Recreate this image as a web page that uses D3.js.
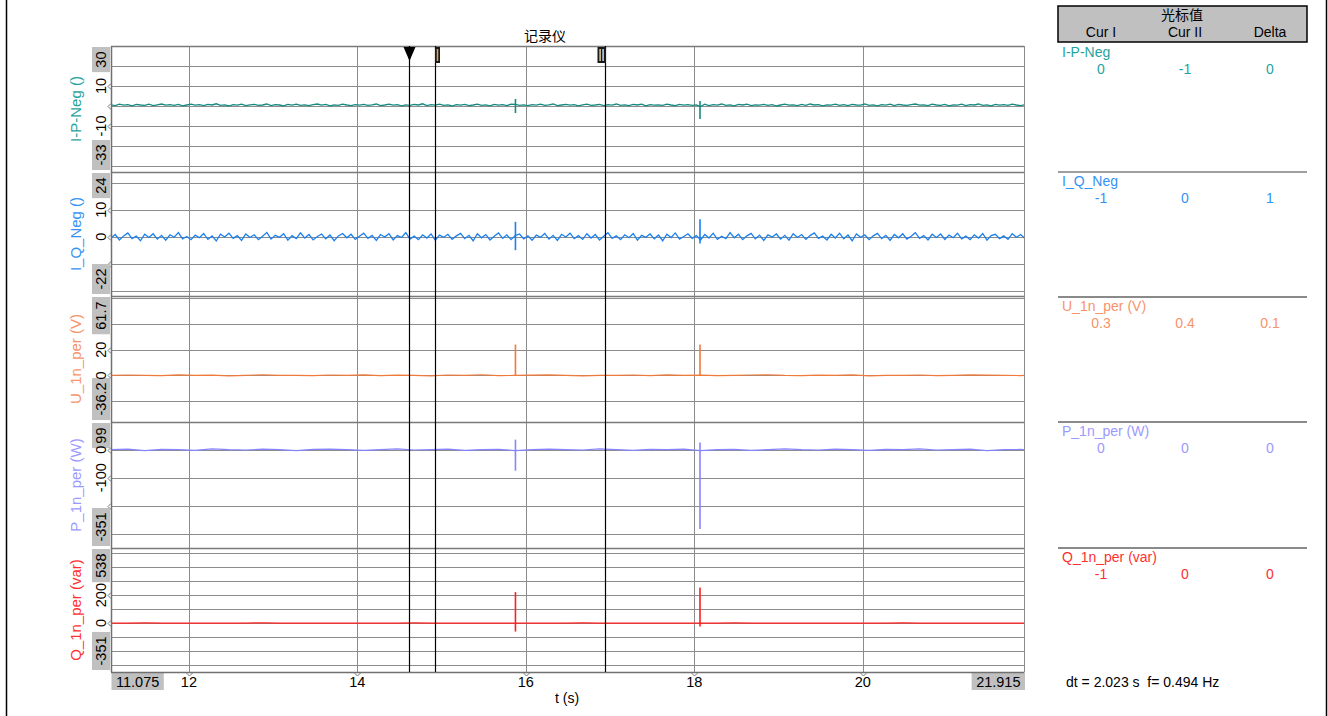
<!DOCTYPE html>
<html><head><meta charset="utf-8">
<script src="https://cdn.jsdelivr.net/npm/d3@7"></script>
<style>
body{margin:0;background:#fff;}
text{font-family:"Liberation Sans",Arial,sans-serif;}
.cjk{font-family:"Noto Sans CJK SC","Liberation Sans",sans-serif;}
</style>
</head><body>
<svg id="c" width="1328" height="716"></svg>
<script>
// ---------------- data ----------------
const chartTitle = "记录仪";
const timeDomain = [11.075, 21.915];
const xTicks = [12, 14, 16, 18, 20];
const xTitle = "t (s)";
const seriesNames = ["I-P-Neg", "I_Q_Neg", "U_1n_per (V)", "P_1n_per (W)", "Q_1n_per (var)"];
const axisTitles = ["I-P-Neg ()", "I_Q_Neg ()", "U_1n_per (V)", "P_1n_per (W)", "Q_1n_per (var)"];
const yMins = [-33, -22, -36.2, -351, -351];
const yMaxs = [30, 24, 61.7, 99, 538];
const yMinLabels = ["-33", "-22", "-36.2", "-351", "-351"];
const yMaxLabels = ["30", "24", "61.7", "99", "538"];
const yTickValues = [[10, 0, -10], [10, 0, -10], [20, 0], [0, -100, -200], [200, 0]];
const yTickLabels = [["10", "", "-10"], ["10", "0", ""], ["20", "0"], ["0", "-100", ""], ["200", "0"]];
const gridSteps = [10, 10, 20, 100, 100];
const sampleStart = 11.075;
const sampleSteps = [0.05, 0.05, 0.2, 0.2, 0.2];

const ipNeg = [0.6,0.2,0.9,0.4,0.7,0.1,0.8,0.5,0.3,0.9,0.2,0.6,1.0,0.4,0.7,0.3,0.8,0.1,0.5,0.9,
 0.4,0.7,0.2,0.8,0.5,1.1,0.3,0.6,0.0,0.7,0.4,0.9,0.2,0.6,0.8,0.3,0.5,1.0,0.2,0.7,
 0.5,0.1,0.8,0.4,0.9,0.3,0.6,0.2,0.7,1.0,0.4,0.8,0.1,0.6,0.3,0.9,0.5,0.2,0.7,0.4,
 0.8,0.3,0.6,1.0,0.2,0.5,0.9,0.4,0.7,0.1,0.6,0.3,0.8,0.5,1.1,0.2,0.7,0.4,0.9,0.3,
 0.6,0.0,0.7,0.4,0.8,0.2,0.5,0.9,0.3,0.6,0.1,0.8,0.4,0.7,0.2,0.9,0.8,0.3,0.6,0.2,
 0.7,0.4,0.9,0.3,0.6,1.0,0.2,0.5,0.8,0.4,0.7,0.1,0.6,0.9,0.3,0.5,0.8,0.2,0.7,0.4,
 1.0,0.3,0.6,0.2,0.8,0.5,0.9,0.1,0.7,0.4,0.6,0.3,0.9,0.5,0.2,0.8,0.4,0.7,0.3,0.6,
 -0.3,0.9,0.2,0.7,0.4,1.0,0.3,0.6,0.1,0.8,0.5,0.9,0.2,0.6,0.4,0.8,0.3,0.7,0.0,0.5,
 0.9,0.4,0.6,0.2,0.8,0.3,1.0,0.5,0.7,0.1,0.6,0.4,0.9,0.3,0.7,0.2,0.8,0.5,0.4,1.0,
 0.3,0.6,0.1,0.7,0.4,0.9,0.2,0.8,0.5,0.3,0.7,1.0,0.4,0.6,0.2,0.9,0.5,0.3,0.8,0.1,
 0.6,0.4,0.9,0.2,0.7,0.5,1.0,0.3,0.6,0.1,0.8,0.4,0.7,0.3,0.9,0.5,0.2,0.6];
const iqNeg = [-0.5,0.8,-1.2,0.3,1.4,-0.7,0.2,-1.5,0.9,-0.3,1.1,-0.9,0.5,-1.3,0.7,-0.2,1.5,-0.8,0.1,-1.1,
 0.6,-0.4,1.2,-1.0,0.3,-1.6,0.9,-0.1,1.3,-0.6,0.4,-1.4,1.0,-0.3,0.7,-1.1,0.2,1.6,-0.9,0.5,
 -0.2,1.1,-1.3,0.4,-0.7,1.4,-0.5,0.8,-1.2,0.1,1.0,-0.8,0.6,-1.5,0.3,1.2,-0.4,0.9,-1.0,0.2,
 1.3,-0.6,0.5,-1.4,0.8,-0.1,1.1,-1.2,0.4,-0.3,1.5,-0.9,0.2,-1.1,0.7,-0.5,1.0,-1.3,0.6,-0.2,
 0.9,-1.0,0.3,1.2,-0.7,0.5,-1.5,1.1,-0.4,0.8,-1.2,0.2,1.4,-0.6,0.7,-1.1,0.4,1.0,-0.8,0.3,
 -1.3,0.6,-0.2,1.2,-0.9,0.5,-1.4,0.9,-0.1,1.3,-0.7,0.4,-1.0,1.1,-0.5,0.8,-1.2,0.2,1.5,-0.6,
 0.3,-1.1,0.7,-0.4,1.2,-1.3,0.5,-0.2,1.0,-0.8,0.6,-1.5,0.9,-0.3,1.4,-0.9,0.1,1.1,-0.6,0.4,
 -1.2,0.8,-0.5,1.3,-1.0,0.2,-0.7,1.5,-0.4,0.9,-1.1,0.3,1.2,-0.8,0.6,-1.4,0.7,-0.1,1.0,-0.9,
 0.5,-1.3,1.1,-0.3,0.8,-1.0,0.4,1.4,-0.6,0.2,-1.2,0.9,-0.5,1.3,-0.8,0.6,-1.5,1.0,-0.2,0.7,
 -1.1,0.3,1.2,-0.7,0.5,-1.4,0.8,-0.4,1.1,-0.9,0.2,1.5,-0.6,0.4,-1.2,0.9,-0.3,1.0,-1.0,0.6,
 -0.4,1.3,-0.8,0.2,-1.1,0.7,-0.5,1.2,-1.3,0.4,0.9,-0.7,0.3,-1.0,1.1,-0.2,0.8,-0.6];
const u1nPer = [0,0.3,0,-0.2,0.4,0,0.2,-0.3,0,0.5,0.1,0,-0.2,0.3,0,0.4,-0.1,0.2,0,-0.3,
 0.3,0,0.5,-0.2,0,0.2,0.4,0,-0.3,0.1,0,0.3,-0.2,0.4,0,0.2,-0.1,0,0.3,0.5,
 0,-0.2,0.2,0,0.4,-0.3,0.1,0,0.3,-0.2,0,0.4,0.2,0,-0.1,0.3];
const p1nPer = [0,2,-3,1,0,-2,3,0,-1,2,0,-3,1,2,0,-2,0,3,-1,0,
 2,-2,0,1,-3,0,2,0,-1,3,0,-2,1,0,2,-3,0,1,-2,0,
 3,0,-1,2,0,-2,1,0,3,-1,0,2,-3,0,1,0];
const q1nPer = [0,0,1,0,0,-1,0,0,0,1,0,0,0,0,-1,0,0,0,1,0,
 0,0,0,-1,0,0,0,0,1,0,0,0,0,0,-1,0,0,1,0,0,
 0,0,-1,0,0,0,0,1,0,0,0,0,0,-1,0,0];
const seriesValues = [ipNeg, iqNeg, u1nPer, p1nPer, q1nPer];

const spikeTimes = [15.877, 18.068];
const spikeHigh = [[3.5, 2.5], [5.5, 6.5], [24, 24], [36, 26], [222, 254]];
const spikeLow = [[-3.5, -6.5], [-5, -2.5], [0, 0], [-75, -283], [-61, -25]];

const markerTime = 14.613;
const cursorITime = 14.92;
const cursorIITime = 16.943;
const tableTitle = "光标值";
const tableHeaders = ["Cur I", "Cur II", "Delta"];
const curIValues = ["0", "-1", "0.3", "0", "-1"];
const curIIValues = ["-1", "0", "0.4", "0", "0"];
const deltaValues = ["0", "1", "0.1", "0", "0"];
const footerText = "dt = 2.023 s\u00a0\u00a0f= 0.494 Hz";

const traceColors = ["#168a80", "#1a7ff0", "#f07a3a", "#8585ff", "#ff1e1e"];
const labelColors = ["#1fa3a0", "#3592f5", "#f7946a", "#9a9aff", "#ff3030"];

// ---------------- layout ----------------
const svg = d3.select("#c");
const L = 111, R = 1024;
const panelTops = [46, 172, 296, 422, 548];
const panelBots = [172, 296, 422, 548, 672];
const x = d3.scaleLinear().domain(timeDomain).range([L, R]);
const gridCol = "#8c8c8c";

// outer frame lines
svg.append("line").attr("x1", 6.5).attr("x2", 6.5).attr("y1", 0).attr("y2", 716).attr("stroke", "#000").attr("stroke-width", 1.5);
svg.append("line").attr("x1", 1326.5).attr("x2", 1326.5).attr("y1", 0).attr("y2", 716).attr("stroke", "#000").attr("stroke-width", 1.5);

// title
svg.append("text").attr("class", "cjk").attr("x", 545).attr("y", 41).attr("text-anchor", "middle")
  .attr("font-size", 14).attr("fill", "#000").text(chartTitle);

// vertical gridlines
svg.append("g").selectAll("line").data(xTicks).join("line")
  .attr("x1", d => Math.round(x(d)) + 0.5).attr("x2", d => Math.round(x(d)) + 0.5)
  .attr("y1", 46).attr("y2", 672).attr("stroke", gridCol).attr("stroke-width", 1);

const defs = svg.append("defs");

seriesValues.forEach((vals, i) => {
  const top = panelTops[i], bot = panelBots[i];
  const y = d3.scaleLinear().domain([yMins[i], yMaxs[i]]).range([bot, top]);
  const g = svg.append("g");
  // horizontal grid
  const gl = [];
  const st = gridSteps[i];
  for (let v = Math.ceil(yMins[i] / st) * st; v <= yMaxs[i]; v += st) gl.push(v);
  g.selectAll("line.h").data(gl).join("line").attr("class", "h")
    .attr("x1", L).attr("x2", R)
    .attr("y1", d => Math.round(y(d)) + 0.5).attr("y2", d => Math.round(y(d)) + 0.5)
    .attr("stroke", gridCol).attr("stroke-width", 1);
  // panel boundary
  g.append("line").attr("x1", L).attr("x2", R).attr("y1", top + 0.5).attr("y2", top + 0.5)
    .attr("stroke", "#7a7a7a").attr("stroke-width", 1.3);

  // clip
  defs.append("clipPath").attr("id", "clip" + i).append("rect")
    .attr("x", L).attr("y", top).attr("width", R - L).attr("height", bot - top);

  const step = sampleSteps[i];
  const line = d3.line().x((d, k) => x(sampleStart + k * step)).y(d => y(d));
  g.append("path").attr("d", line(vals)).attr("fill", "none")
    .attr("stroke", traceColors[i]).attr("stroke-width", i < 2 ? 1.3 : 1.2)
    .attr("clip-path", "url(#clip" + i + ")");
  // spikes
  g.selectAll("line.sp").data(spikeTimes).join("line").attr("class", "sp")
    .attr("x1", d => x(d)).attr("x2", d => x(d))
    .attr("y1", (d, k) => y(spikeHigh[i][k])).attr("y2", (d, k) => y(spikeLow[i][k]))
    .attr("stroke", traceColors[i]).attr("stroke-width", 1.6);

  // tick chevrons
  g.selectAll("path.tk").data(yTickValues[i]).join("path").attr("class", "tk")
    .attr("d", d => { const yy = Math.round(y(d)) + 0.5; return `M${L},${yy - 3}L${L - 3},${yy}L${L},${yy + 3}`; })
    .attr("fill", "none").attr("stroke", "#777").attr("stroke-width", 1);
  // tick labels
  g.selectAll("text.tl").data(yTickValues[i]).join("text").attr("class", "tl")
    .attr("transform", d => `translate(106,${y(d)}) rotate(-90)`)
    .attr("text-anchor", "middle").attr("font-size", 14.5).attr("fill", "#000")
    .text((d, k) => yTickLabels[i][k]);

  // max/min label boxes
  const mk = (label, atTop) => {
    const t = g.append("text").attr("font-size", 14.5).attr("fill", "#000").attr("text-anchor", "middle").text(label);
    const w = t.node().getComputedTextLength();
    const h = w + 9;
    const y0 = atTop ? top + 1 : bot - 2 - h;
    g.insert("rect", "text").attr("x", 92).attr("y", y0).attr("width", 18).attr("height", h).attr("fill", "#c0c0c0");
    t.attr("transform", `translate(106,${y0 + h / 2}) rotate(-90)`);
  };
  mk(yMaxLabels[i], true);
  mk(yMinLabels[i], false);

  // axis title
  svg.append("text").attr("transform", `translate(81,${(top + bot) / 2}) rotate(-90)`)
    .attr("text-anchor", "middle").attr("font-size", 15).attr("fill", labelColors[i]).text(axisTitles[i]);
});

// plot frame
svg.append("line").attr("x1", L + 0.5).attr("x2", L + 0.5).attr("y1", 46).attr("y2", 672).attr("stroke", "#707070").attr("stroke-width", 1.5);
svg.append("line").attr("x1", R + 0.5).attr("x2", R + 0.5).attr("y1", 46).attr("y2", 672).attr("stroke", "#8a8a8a").attr("stroke-width", 1);
svg.append("line").attr("x1", L).attr("x2", R).attr("y1", 672.5).attr("y2", 672.5).attr("stroke", "#707070").attr("stroke-width", 1.5);

// x ticks and labels
svg.append("g").selectAll("path").data(xTicks).join("path")
  .attr("d", d => { const xx = Math.round(x(d)) + 0.5; return `M${xx - 3},${673}L${xx},${676}L${xx + 3},${673}`; })
  .attr("fill", "none").attr("stroke", "#777");
svg.append("g").selectAll("text").data(xTicks).join("text")
  .attr("x", d => x(d)).attr("y", 687).attr("text-anchor", "middle").attr("font-size", 14.5).text(d => d);
// domain end boxes
[[timeDomain[0], "start"], [timeDomain[1], "end"]].forEach(([v, side]) => {
  const label = v.toFixed(3);
  const t = svg.append("text").attr("font-size", 14.5).attr("text-anchor", "middle").attr("y", 687).text(label);
  const w = t.node().getComputedTextLength() + 9;
  const x0 = side === "start" ? x(v) + 0.5 : x(v) + 1 - w;
  svg.insert("rect", "text").attr("x", x0).attr("y", 672).attr("width", w).attr("height", 18).attr("fill", "#c0c0c0");
  t.attr("x", x0 + w / 2).raise();
});
svg.append("text").attr("x", 567).attr("y", 703).attr("text-anchor", "middle").attr("font-size", 14).text(xTitle);

// cursors
const cur = svg.append("g");
[markerTime, cursorITime, cursorIITime].forEach(t => {
  cur.append("line").attr("x1", Math.round(x(t)) + 0.5).attr("x2", Math.round(x(t)) + 0.5)
    .attr("y1", 46).attr("y2", 672).attr("stroke", "#000").attr("stroke-width", 1.2);
});
const mx = Math.round(x(markerTime)) + 0.5;
cur.append("path").attr("d", `M${mx - 6},47L${mx + 6},47L${mx},61Z`).attr("fill", "#000");
const c1 = Math.round(x(cursorITime)) + 0.5;
cur.append("rect").attr("x", c1 - 0.5).attr("y", 47).attr("width", 5).attr("height", 16).attr("fill", "#1a1a1a");
cur.append("rect").attr("x", c1 + 1.2).attr("y", 49).attr("width", 1.6).attr("height", 12).attr("fill", "#d9a060");
const c2 = Math.round(x(cursorIITime)) + 0.5;
cur.append("rect").attr("x", c2 - 8).attr("y", 47).attr("width", 8.5).attr("height", 16).attr("fill", "#1a1a1a");
cur.append("rect").attr("x", c2 - 6.2).attr("y", 49).attr("width", 1.6).attr("height", 12).attr("fill", "#d9c090");
cur.append("rect").attr("x", c2 - 3.2).attr("y", 49).attr("width", 1.6).attr("height", 12).attr("fill", "#b0d0f0");

// right table
const tb = svg.append("g");
const colX = [1101, 1185, 1270];
tb.append("rect").attr("x", 1058).attr("y", 6).attr("width", 249).attr("height", 36)
  .attr("fill", "#c0c0c0").attr("stroke", "#000").attr("stroke-width", 1.5);
tb.append("text").attr("class", "cjk").attr("x", 1182).attr("y", 20).attr("text-anchor", "middle").attr("font-size", 14).text(tableTitle);
tb.selectAll("text.hd").data(tableHeaders).join("text").attr("class", "hd")
  .attr("x", (d, k) => colX[k]).attr("y", 37).attr("text-anchor", "middle").attr("font-size", 14).text(d => d);
const secTops = [43, 172, 297, 422, 548];
seriesNames.forEach((n, i) => {
  const s = secTops[i];
  if (i > 0) tb.append("line").attr("x1", 1058).attr("x2", 1307).attr("y1", s).attr("y2", s)
    .attr("stroke", i === 1 ? "#404040" : "#8a8a8a").attr("stroke-width", i === 1 ? 1.2 : 2);
  tb.append("text").attr("x", 1062).attr("y", s + 14).attr("font-size", 14).attr("fill", labelColors[i]).text(n);
  [curIValues[i], curIIValues[i], deltaValues[i]].forEach((v, k) => {
    tb.append("text").attr("x", colX[k]).attr("y", s + 31).attr("text-anchor", "middle")
      .attr("font-size", 14).attr("fill", labelColors[i]).text(v);
  });
});
tb.append("text").attr("x", 1066).attr("y", 687).attr("font-size", 14).text(footerText);
</script>
</body></html>
